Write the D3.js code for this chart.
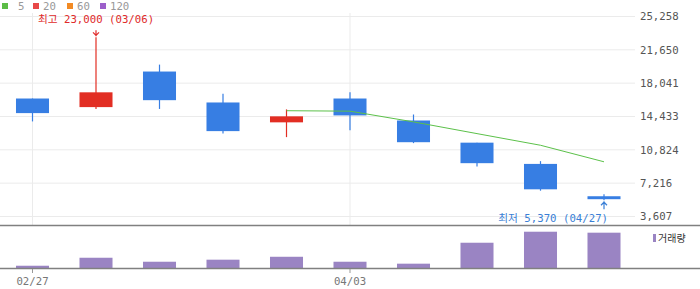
<!DOCTYPE html>
<html>
<head>
<meta charset="utf-8">
<script src="https://cdn.jsdelivr.net/npm/d3@7"></script>
<style>
  body { margin: 0; background: #fff; }
  text { font-family: "DejaVu Sans Mono", "Noto Sans CJK KR", monospace; }
</style>
</head>
<body>
<div id="wrapper"></div>
<script>
// weekly candles
const dates  = ["02/27", "03/06", "03/13", "03/20", "03/27", "04/03", "04/10", "04/17", "04/24", "05/01"];
const opens  = [16380, 15450, 19300, 15950, 13800, 16380, 14000, 11600, 9300, 5800];
const closes = [14800, 17050, 16200, 12850, 14450, 14550, 11650, 9380, 6550, 5480];
const highs  = [16380, 23000, 20050, 16900, 15200, 17050, 14650, 11600, 9600, 6020];
const lows   = [13900, 15250, 15250, 12600, 12200, 12950, 11550, 9020, 6400, 5370];
const ma5    = [null, null, null, null, 15060, 15010, 13850, 12580, 11320, 9530];
const volumes = [21000, 95000, 58000, 77000, 104000, 58000, 40000, 234000, 336000, 327000];

const yTicks = [3607, 7216, 10824, 14433, 18041, 21650, 25258];
const xLabels = ["02/27", "04/03"];
const maLegend = ["5", "20", "60", "120"];
const maColors = ["#5cbd47", "#e84848", "#f28a24", "#9c5fca"];

const dimension = {
    width: 700,
    height: 289,
    plotRight: 636,
    priceTop: 13,
    priceBottom: 225,
    volBottom: 268
};

const red = "#e22e23", blue = "#377ee3";

const svg = d3.select("#wrapper").append("svg")
    .attr("width", dimension.width)
    .attr("height", dimension.height);

const xScale = d3.scaleBand()
    .domain(dates)
    .range([0.75, dimension.plotRight - 0.25])
    .paddingInner(0.48)
    .paddingOuter(0.24);
const xc = d => xScale(d) + xScale.bandwidth() / 2;

const yScale = d3.scaleLinear()
    .domain([3607, 25258])
    .range([216.5, 16.5]);

const vScale = d3.scaleLinear()
    .domain([0, d3.max(volumes) * 1.185])
    .range([dimension.volBottom, dimension.priceBottom]);

// grid
svg.append("g").selectAll("line")
    .data(yTicks)
    .join("line")
    .attr("x1", 0).attr("x2", dimension.plotRight - 1)
    .attr("y1", d => yScale(d)).attr("y2", d => yScale(d))
    .attr("stroke", "#ebebeb");

svg.append("g").selectAll("line")
    .data(xLabels)
    .join("line")
    .attr("x1", d => xc(d)).attr("x2", d => xc(d))
    .attr("y1", dimension.priceTop).attr("y2", dimension.priceBottom)
    .attr("stroke", "#ebebeb");

// y labels
svg.append("g").selectAll("text")
    .data(yTicks)
    .join("text")
    .attr("x", 640)
    .attr("y", d => yScale(d))
    .attr("dy", "0.35em")
    .attr("font-size", 10.7)
    .attr("fill", "#555")
    .text(d => d3.format(",")(d));

// candles
const idx = d3.range(dates.length);
const candles = svg.append("g");
candles.selectAll("line")
    .data(idx)
    .join("line")
    .attr("x1", i => xc(dates[i])).attr("x2", i => xc(dates[i]))
    .attr("y1", i => yScale(highs[i])).attr("y2", i => yScale(lows[i]))
    .attr("stroke", i => closes[i] >= opens[i] ? red : blue)
    .attr("stroke-width", 1.2);
candles.selectAll("rect")
    .data(idx)
    .join("rect")
    .attr("x", i => xScale(dates[i]))
    .attr("width", xScale.bandwidth())
    .attr("y", i => yScale(Math.max(opens[i], closes[i])))
    .attr("height", i => Math.max(2, Math.abs(yScale(opens[i]) - yScale(closes[i]))))
    .attr("fill", i => closes[i] >= opens[i] ? red : blue);

// moving average 5
const lineGenerator = d3.line()
    .defined(i => ma5[i] != null)
    .x(i => xc(dates[i]))
    .y(i => yScale(ma5[i]));
svg.append("path")
    .attr("d", lineGenerator(idx))
    .attr("fill", "none")
    .attr("stroke", "#5cc14a")
    .attr("stroke-width", 1);

// high / low marks
const hiIdx = highs.indexOf(d3.max(highs));
const loIdx = lows.indexOf(d3.min(lows));
const hx = xc(dates[hiIdx]), hy = yScale(highs[hiIdx]);
svg.append("text")
    .attr("x", hx).attr("y", hy - 14)
    .attr("text-anchor", "middle")
    .attr("font-size", 10.7)
    .attr("fill", "#e02a2a")
    .text(`최고 ${d3.format(",")(highs[hiIdx])} (03/06)`);
svg.append("path")
    .attr("d", `M${hx},${hy - 7}V${hy - 1}M${hx - 3},${hy - 5}L${hx},${hy - 2}L${hx + 3},${hy - 5}`)
    .attr("fill", "none").attr("stroke", "#e02a2a").attr("stroke-width", 1.2);

const lx = xc(dates[loIdx]), ly = yScale(lows[loIdx]);
svg.append("text")
    .attr("x", lx + 4).attr("y", ly + 22)
    .attr("text-anchor", "end")
    .attr("font-size", 10.7)
    .attr("fill", "#3a7fd6")
    .text(`최저 ${d3.format(",")(lows[loIdx])} (04/27)`);
svg.append("path")
    .attr("d", `M${lx},${ly + 1}V${ly + 9}M${lx - 3},${ly + 5}L${lx},${ly + 2}L${lx + 3},${ly + 5}`)
    .attr("fill", "none").attr("stroke", "#3a7fd6").attr("stroke-width", 1.2);

// volume
svg.append("g").selectAll("rect")
    .data(idx)
    .join("rect")
    .attr("x", i => xScale(dates[i]))
    .attr("width", xScale.bandwidth())
    .attr("y", i => vScale(volumes[i]))
    .attr("height", i => dimension.volBottom - vScale(volumes[i]))
    .attr("fill", "#9a84c3");

// panel lines
svg.append("line")
    .attr("x1", 0).attr("x2", dimension.width)
    .attr("y1", dimension.priceBottom + 0.5).attr("y2", dimension.priceBottom + 0.5)
    .attr("stroke", "#808080").attr("stroke-width", 1.3);
svg.append("line")
    .attr("x1", 0).attr("x2", dimension.width)
    .attr("y1", dimension.volBottom + 0.5).attr("y2", dimension.volBottom + 0.5)
    .attr("stroke", "#808080").attr("stroke-width", 1.3);

// x axis
const xAxis = svg.append("g");
xAxis.selectAll("line")
    .data(xLabels)
    .join("line")
    .attr("x1", d => xc(d)).attr("x2", d => xc(d))
    .attr("y1", dimension.volBottom + 1).attr("y2", dimension.volBottom + 5)
    .attr("stroke", "#999");
xAxis.selectAll("text")
    .data(xLabels)
    .join("text")
    .attr("x", d => xc(d))
    .attr("y", 285)
    .attr("text-anchor", "middle")
    .attr("font-size", 10.7)
    .attr("fill", "#777")
    .text(d => d);

// legends
const legend = svg.append("g");
const legX = [2, 33, 67, 100];
const legTextX = [18, 43, 77, 110];
legend.selectAll("rect")
    .data(maLegend)
    .join("rect")
    .attr("x", (d, i) => legX[i]).attr("y", 3)
    .attr("width", 6).attr("height", 6)
    .attr("fill", (d, i) => maColors[i]);
legend.selectAll("text")
    .data(maLegend)
    .join("text")
    .attr("x", (d, i) => legTextX[i]).attr("y", 10)
    .attr("font-size", 10.7)
    .attr("fill", "#999")
    .text(d => d);

svg.append("rect")
    .attr("x", 653).attr("y", 234)
    .attr("width", 3).attr("height", 8)
    .attr("fill", "#9a84c3");
svg.append("text")
    .attr("x", 658).attr("y", 241.5)
    .attr("font-size", 10)
    .attr("font-family", "Noto Sans CJK KR")
    .attr("fill", "#333")
    .text("거래량");
</script>
</body>
</html>
